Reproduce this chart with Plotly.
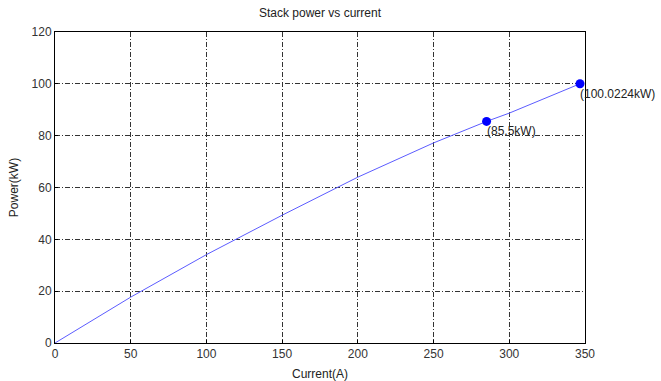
import plotly.graph_objects as go

current = [0, 50, 100, 150, 200, 250, 285, 300, 346.7]
power = [0, 17.7, 34.1, 49.3, 64.0, 77.2, 85.5, 88.7, 100.0224]

marked_current = [285, 346.7]
marked_power = [85.5, 100.0224]
marked_labels = ["(85.5kW)", "(100.0224kW)"]

x_ticks = [0, 50, 100, 150, 200, 250, 300, 350]
y_ticks = [0, 20, 40, 60, 80, 100, 120]

font_family = "Liberation Sans, Arial, sans-serif"

fig = go.Figure()
fig.add_trace(go.Scatter(x=current, y=power, mode="lines",
                         line=dict(color="#5c5cff", width=1), showlegend=False))
fig.add_trace(go.Scatter(x=marked_current, y=marked_power, mode="markers",
                         marker=dict(color="#0000ff", size=9, symbol="circle"),
                         showlegend=False))

for xv, yv, lab in zip(marked_current, marked_power, marked_labels):
    fig.add_annotation(x=xv, y=yv, text=lab, showarrow=False,
                       xanchor="left", yanchor="top", xshift=-2, yshift=-1,
                       font=dict(family=font_family, size=12, color="#222"))

axis_common = dict(showline=True, linecolor="black", linewidth=1, mirror=True,
                   ticks="inside", ticklen=3, tickcolor="black",
                   showgrid=True, gridcolor="#333", gridwidth=1,
                   griddash="5px,2px,1px,2px", automargin=False,
                   zeroline=False, tickfont=dict(family=font_family, size=12, color="#333"))

fig.update_xaxes(range=[0, 350], tickvals=x_ticks, **axis_common,
                 title=dict(text="Current(A)", standoff=10,
                            font=dict(family=font_family, size=12, color="#222")))
fig.update_yaxes(range=[0, 120], tickvals=y_ticks, **axis_common,
                 title=dict(text="Power(kW)", standoff=10,
                            font=dict(family=font_family, size=12, color="#222")))

fig.update_layout(
    width=661, height=381,
    margin=dict(l=55, r=76, t=32, b=38),
    paper_bgcolor="white", plot_bgcolor="white",
    title=dict(text="Stack power vs current", x=0.5, xanchor="center",
               xref="paper", y=1, yref="container", yanchor="top", pad=dict(t=9),
               font=dict(family=font_family, size=12, color="#222")),
)

fig.write_html("out.html")
